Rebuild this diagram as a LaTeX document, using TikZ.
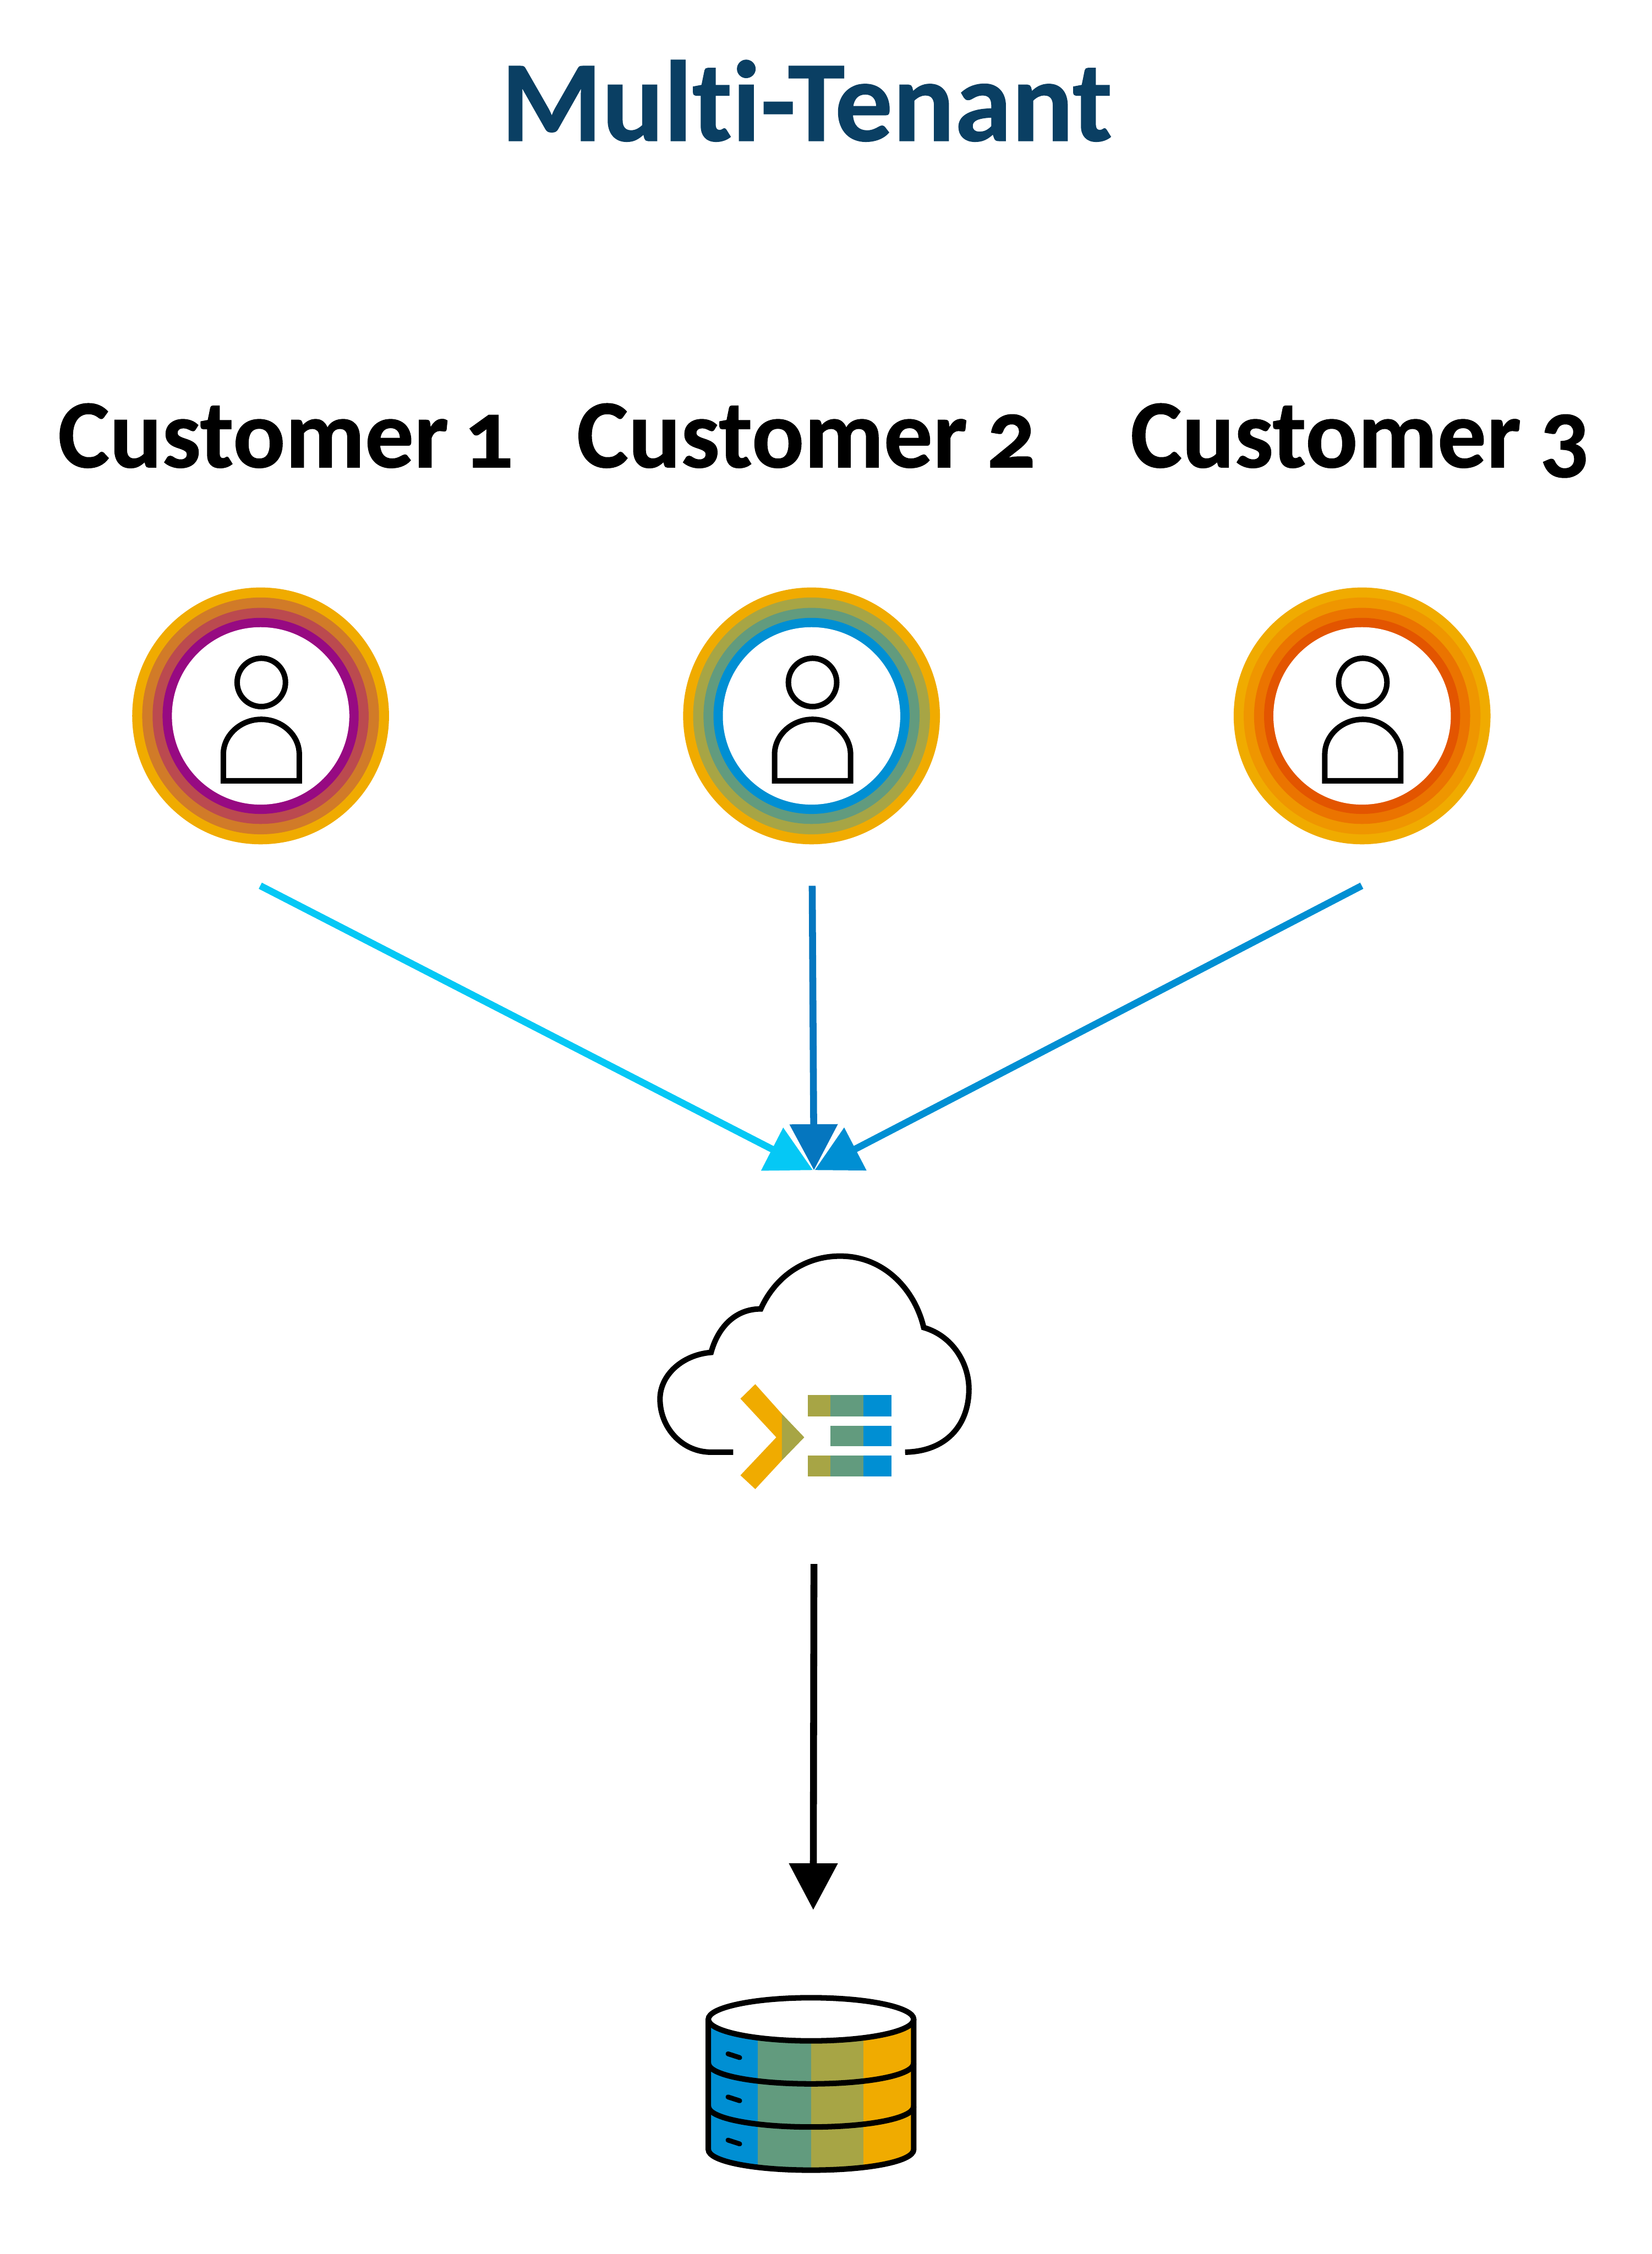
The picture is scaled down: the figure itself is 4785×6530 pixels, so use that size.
\documentclass[tikz,border=0pt]{standalone}
\usepackage{fontspec}
\setmainfont{Carlito}[Numbers=OldStyle,Ligatures=NoCommon,BoldFeatures={FakeBold=0.6}]
\usetikzlibrary{arrows.meta}
\definecolor{cyel}{HTML}{F0AB00}
\definecolor{colv}{HTML}{A7A545}
\definecolor{cgrn}{HTML}{629B7E}
\definecolor{cblu}{HTML}{008FD3}
\definecolor{ccyan}{HTML}{05C8F5}
\definecolor{cmid}{HTML}{0576BF}
\definecolor{cpur}{HTML}{970A82}
\definecolor{cp2}{HTML}{BB4A4F}
\definecolor{cp3}{HTML}{D17B28}
\definecolor{co1}{HTML}{E35500}
\definecolor{co2}{HTML}{EB7400}
\definecolor{co3}{HTML}{EF9600}
\definecolor{ctitle}{HTML}{0A3F63}
\begin{document}
\begin{tikzpicture}[x=0.1mm,y=-0.1mm,
  blacklw/.style={line width=1.6mm,black,line join=miter},
  titletext/.style={inner sep=0,anchor=base,text=ctitle,font=\fontsize{95}{100}\selectfont\bfseries},
  custtext/.style={inner sep=0,anchor=base west,text=black,font=\fontsize{80.5}{84}\selectfont\bfseries},
  conn/.style={line width=2mm,-{Triangle[width=13.5mm,length=13.3mm]}},
  conb/.style={line width=2mm,black,-{Triangle[width=13.7mm,length=13.5mm]}}]
\useasboundingbox (0,0) rectangle (4785,6530);
\fill[white] (0,0) rectangle (4785,6530);
\node[titletext] (title) at (2337,408) {Multi-Tenant};
\node[custtext] (c1) at (167,1354) {Customer\hspace{-0.07em} 1};
\node[custtext] (c2) at (1670,1354) {Customer\hspace{-0.03em} 2};
\node[custtext] (c3) at (3274,1354) {Customer\hspace{-0.03em} 3};
% rings
\def\ringset#1#2#3#4#5{%
 \fill[cyel] (#1,2074) circle[radius=372];
 \fill[#2] (#1,2074) circle[radius=343];
 \fill[#3] (#1,2074) circle[radius=313];
 \fill[#4] (#1,2074) circle[radius=284];
 \fill[white] (#1,2074) circle[radius=257];
 \draw[blacklw] (#5,1977) circle[radius=70];
 \draw[blacklw] (#5-110,2262) -- (#5-110,2185) .. controls (#5-110,2130) and (#5-60,2084) .. (#5,2084) .. controls (#5+60,2084) and (#5+110,2130) .. (#5+110,2185) -- (#5+110,2262) -- cycle;
}
\ringset{755}{cp3}{cp2}{cpur}{757}
\ringset{2351}{colv}{cgrn}{cblu}{2354}
\ringset{3946}{co3}{co2}{co1}{3948}
% cloud
\draw[blacklw] (2124,4207) -- (2060,4207) .. controls (1975,4207) and (1912,4135) .. (1912,4053)
  .. controls (1912,3985) and (1975,3925) .. (2060,3918)
  .. controls (2080,3845) and (2130,3792) .. (2204,3792)
  .. controls (2245,3700) and (2330,3639) .. (2434,3639)
  .. controls (2560,3639) and (2650,3735) .. (2676,3846)
  .. controls (2760,3870) and (2807,3950) .. (2807,4024)
  .. controls (2807,4130) and (2740,4205) .. (2622,4207);
\fill[cyel] (2188,4010) -- (2145,4052) -- (2249,4164) -- (2145,4274) -- (2188,4314) -- (2265,4231) -- (2265,4096) -- cycle;
\fill[colv] (2265,4096) -- (2330,4164) -- (2265,4231) -- cycle;
\fill[colv] (2340,4041) rectangle (2405,4103);
\fill[cgrn] (2405,4041) rectangle (2501,4103);
\fill[cblu] (2501,4041) rectangle (2583,4103);
\fill[cgrn] (2405,4130) rectangle (2501,4189);
\fill[cblu] (2501,4130) rectangle (2583,4189);
\fill[colv] (2340,4216) rectangle (2405,4277);
\fill[cgrn] (2405,4216) rectangle (2501,4277);
\fill[cblu] (2501,4216) rectangle (2583,4277);
% database
\begin{scope}
\clip (2052,5850) -- (2052,6227) .. controls (2052,6262) and (2185,6287) .. (2349.5,6287) .. controls (2514,6287) and (2647,6262) .. (2647,6227) -- (2647,5850) -- cycle;
\fill[cblu] (2040,5840) rectangle (2196,6300);
\fill[cgrn] (2196,5840) rectangle (2350,6300);
\fill[colv] (2350,5840) rectangle (2501,6300);
\fill[cyel] (2501,5840) rectangle (2660,6300);
\end{scope}
\draw[blacklw,fill=white] (2349.5,5850) ellipse[x radius=297.5,y radius=62.5];
\draw[blacklw] (2052,5850) -- (2052,6227) .. controls (2052,6262) and (2185,6287) .. (2349.5,6287) .. controls (2514,6287) and (2647,6262) .. (2647,6227) -- (2647,5850);
\draw[blacklw] (2052,5977) .. controls (2052,6012) and (2185,6037) .. (2349.5,6037) .. controls (2514,6037) and (2647,6012) .. (2647,5977);
\draw[blacklw] (2052,6102) .. controls (2052,6137) and (2185,6162) .. (2349.5,6162) .. controls (2514,6162) and (2647,6137) .. (2647,6102);
\foreach \yy in {5950,6075,6200}
  \draw[line width=1.4mm,line cap=round,black] (2109,\yy) -- (2143,\yy+11);
% connectors
\coordinate (p1) at (754,2566);
\coordinate (p2) at (2353,2566);
\coordinate (p3) at (3945,2566);
\coordinate (t1) at (2355,3390);
\coordinate (t2) at (2358,3390);
\coordinate (t3) at (2360,3390);
\coordinate (p4) at (2358,4531);
\coordinate (t4) at (2356,5533);
\draw[conn,ccyan] (p1) -- (t1);
\draw[conn,cmid] (p2) -- (t2);
\draw[conn,cblu] (p3) -- (t3);
\draw[conb] (p4) -- (t4);
\end{tikzpicture}
\end{document}
